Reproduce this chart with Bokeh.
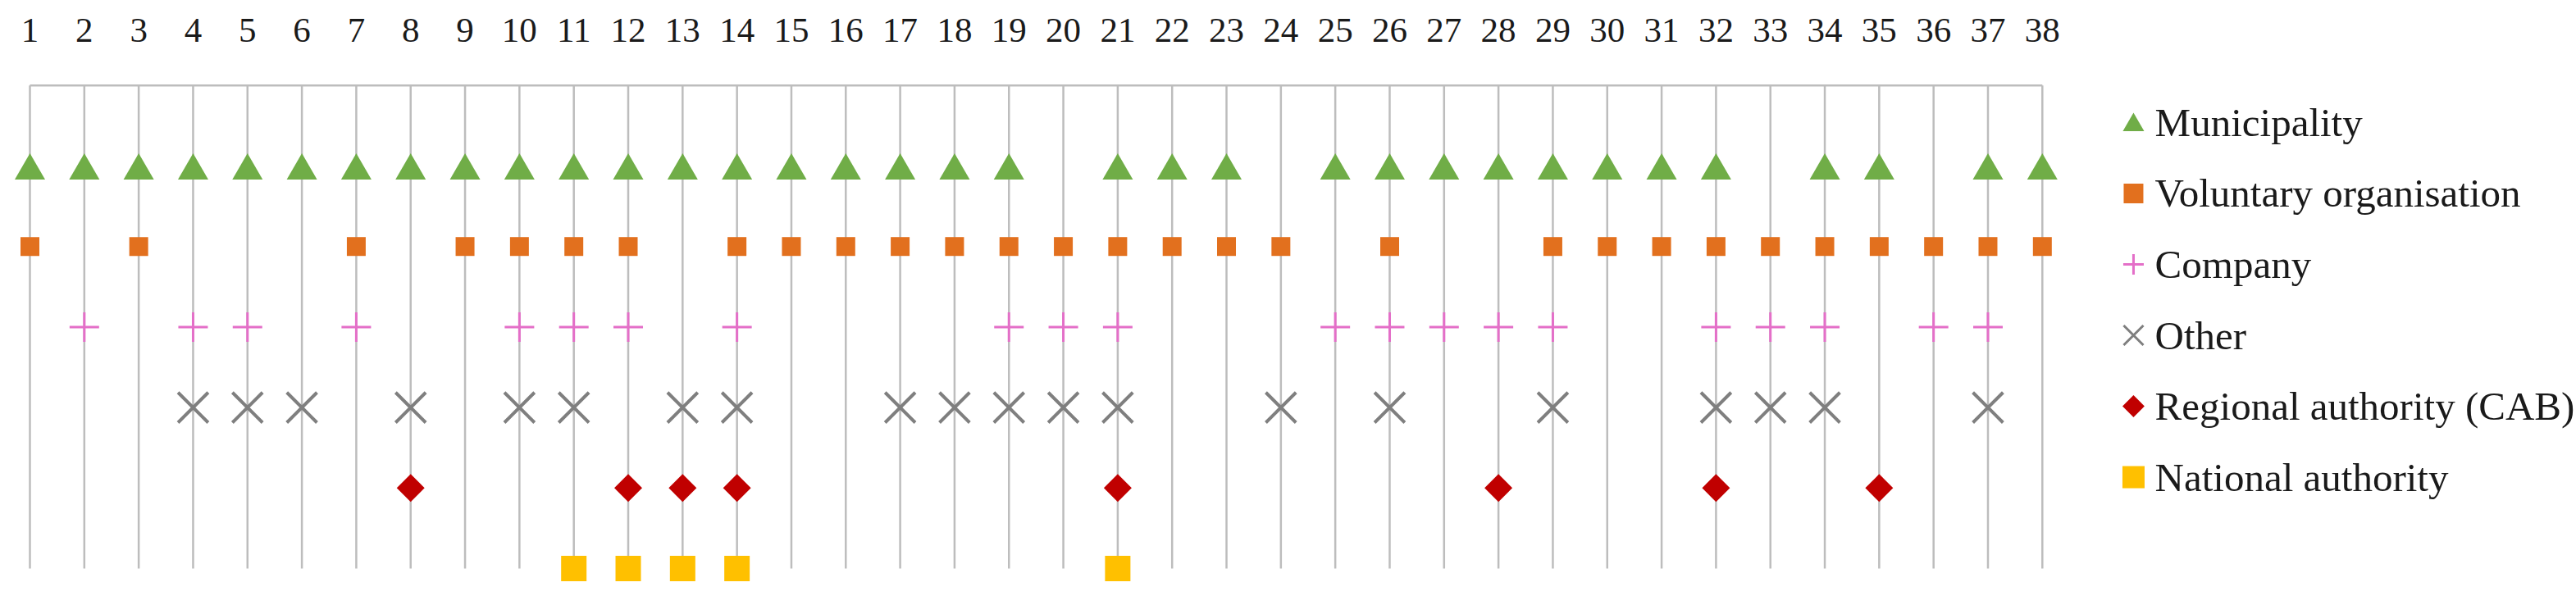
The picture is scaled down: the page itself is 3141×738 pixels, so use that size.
from bokeh.plotting import figure
from bokeh.models import Range1d, ColumnDataSource
from bokeh.core.properties import value
from bokeh.embed import file_html
from bokeh.resources import INLINE
import numpy as np

# ---------------- data ----------------
cases = [1, 2, 3, 4, 5, 6, 7, 8, 9, 10, 11, 12, 13, 14, 15, 16, 17, 18, 19,
         20, 21, 22, 23, 24, 25, 26, 27, 28, 29, 30, 31, 32, 33, 34, 35, 36, 37, 38]
tick_labels = [str(c) for c in cases]

categories = ["Municipality", "Voluntary organisation", "Company", "Other",
              "Regional authority (CAB)", "National authority"]

municipality = [1, 2, 3, 4, 5, 6, 7, 8, 9, 10, 11, 12, 13, 14, 15, 16, 17, 18, 19,
                21, 22, 23, 25, 26, 27, 28, 29, 30, 31, 32, 34, 35, 37, 38]
voluntary = [1, 3, 7, 9, 10, 11, 12, 14, 15, 16, 17, 18, 19, 20, 21, 22, 23, 24,
             26, 29, 30, 31, 32, 33, 34, 35, 36, 37, 38]
company = [2, 4, 5, 7, 10, 11, 12, 14, 19, 20, 21, 25, 26, 27, 28, 29, 32, 33, 34, 36, 37]
other = [4, 5, 6, 8, 10, 11, 13, 14, 17, 18, 19, 20, 21, 24, 26, 29, 32, 33, 34, 37]
regional = [8, 12, 13, 14, 21, 28, 32, 35]
national = [11, 12, 13, 14, 21]

members = [municipality, voluntary, company, other, regional, national]
levels = [6, 5, 4, 3, 2, 1]  # row of each category (top to bottom)

# ---------------- styles ----------------
# dy: small vertical nudge (data units) so the triangle's box is centred on its row
styles = [
    dict(marker="triangle", color="#70AD47", size=37, lsize=26, angle=0.0, lw=1, dy=-0.06),
    dict(marker="square", color="#E2701E", size=23, lsize=24, angle=0.0, lw=1, dy=0.0),
    dict(marker="cross", color="#E46FC8", size=36, lsize=25, angle=0.0, lw=3, dy=0.0),
    dict(marker="x", color="#7F7F7F", size=52, lsize=34, angle=0.0, lw=4, dy=0.0),
    dict(marker="square", color="#C00000", size=24, lsize=19, angle=np.pi / 4, lw=1, dy=0.0),
    dict(marker="square", color="#FFC000", size=31, lsize=27, angle=0.0, lw=1, dy=0.0),
]

W, H = 3141, 738
p = figure(width=W, height=H, output_backend="svg", toolbar_location=None,
           x_range=Range1d(0.4572, 47.819), y_range=Range1d(0.5418, 8.057),
           x_axis_location=None, y_axis_location=None, min_border=0)
p.grid.visible = False
p.outline_line_color = None
p.background_fill_color = "white"
p.border_fill_color = "white"

top = 7
line_col = "#BDBDBD"
# vertical drop lines and top connector
p.segment(x0=cases, y0=[1] * len(cases), x1=cases, y1=[top] * len(cases),
          line_color=line_col, line_width=2.5)
p.segment(x0=[cases[0]], y0=[top], x1=[cases[-1]], y1=[top],
          line_color=line_col, line_width=2.5)

# case labels on top
p.text(x=cases, y=[7.69] * len(cases), text=tick_labels,
       text_font=value("Liberation Serif"), text_font_size="43px",
       text_align="center", text_baseline="middle", text_color="#1a1a1a")

# markers
for cat, mem, lvl, st in zip(categories, members, levels, styles):
    src = ColumnDataSource(dict(x=mem, y=[lvl + st["dy"]] * len(mem)))
    if st["marker"] in ("cross", "x"):
        p.scatter("x", "y", source=src, marker=st["marker"], size=st["size"],
                  line_color=st["color"], line_width=st["lw"], fill_color=None)
    else:
        p.scatter("x", "y", source=src, marker=st["marker"], size=st["size"],
                  angle=st["angle"], fill_color=st["color"], line_color=None)

# legend (drawn manually so the rotated square keeps its look)
leg_x_marker = 39.676
leg_x_text = 40.07
leg_y0 = 6.54
leg_step = 0.881
for i, (cat, st) in enumerate(zip(categories, styles)):
    ly = leg_y0 - i * leg_step
    if st["marker"] in ("cross", "x"):
        p.scatter([leg_x_marker], [ly], marker=st["marker"], size=st["lsize"],
                  line_color=st["color"], line_width=3, fill_color=None)
    else:
        p.scatter([leg_x_marker], [ly + st["dy"] / 2], marker=st["marker"], size=st["lsize"],
                  angle=st["angle"], fill_color=st["color"], line_color=None)
    p.text(x=[leg_x_text], y=[ly], text=[cat],
           text_font=value("Liberation Serif"), text_font_size="49px",
           text_align="left", text_baseline="middle", text_color="#1a1a1a")

open("out.html", "w").write(file_html(p, INLINE))
